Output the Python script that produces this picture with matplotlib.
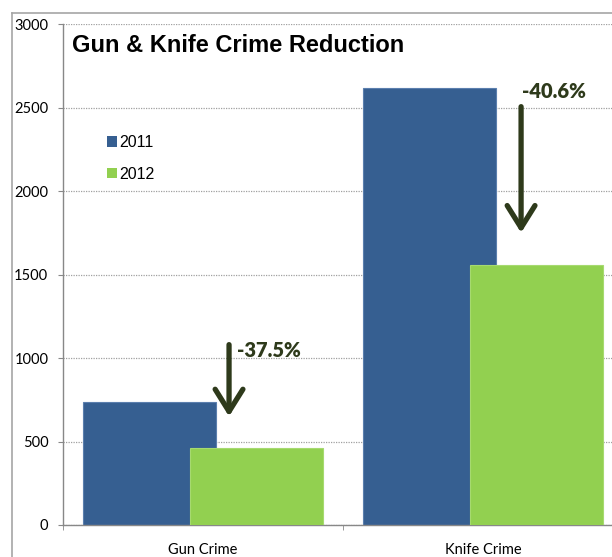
import matplotlib
matplotlib.use("Agg")
import matplotlib.pyplot as plt
from matplotlib.patches import Patch
from matplotlib.lines import Line2D
import numpy as np

categories = ["Gun Crime", "Knife Crime"]
series_names = ["2011", "2012"]
values_2011 = [736, 2617]
values_2012 = [460, 1555]
pct_labels = ["-37.5%", "-40.6%"]
yticks = [0, 500, 1000, 1500, 2000, 2500, 3000]

# annotation placement (arrow x, arrow start y, arrow tip y, label x, label y)
arrow_x = [0.093, 1.136]
arrow_start = [1080, 2505]
arrow_end = [650, 1750]
label_x = [0.121, 1.139]
label_y = [1042, 2593]

blue = "#365F91"
green = "#92D050"
dark = "#2E3A1B"

fig = plt.figure(figsize=(6.12, 5.57), dpi=100)
W, H = 612, 557
ax = fig.add_axes([63 / W, 1 - 525 / H, 560 / W, 501 / H])

x = np.arange(len(categories))
bw = 0.475
off = 0.19
ax.bar(x - off, values_2011, bw, color=blue, edgecolor="#5B7FAE", linewidth=0.8, zorder=2)
ax.bar(x + off, values_2012, bw, color=green, edgecolor="#A6DA70", linewidth=0.8, zorder=3)

ax.set_xlim(-0.5, 1.5)
ax.set_ylim(0, 3000)
ax.set_yticks(yticks)
ax.set_yticklabels([str(v) for v in yticks], fontsize=10.5, family="Lato")
ax.yaxis.grid(True, linestyle=(0, (1, 1)), color="#A0A0A0", linewidth=0.9, zorder=0)
ax.set_axisbelow(True)

ax.set_xticks(x)
ax.set_xticklabels(categories, fontsize=10.5, family="Lato")
ax.set_xticks([-0.5, 0.5, 1.5], minor=True)
ax.tick_params(axis="x", which="major", length=0, pad=13)
ax.tick_params(axis="x", which="minor", length=3.6, color="#888888", direction="out")
ax.tick_params(axis="y", length=3.6, color="#888888", direction="out", pad=7)

for s in ["top", "right"]:
    ax.spines[s].set_visible(False)
for s in ["left", "bottom"]:
    ax.spines[s].set_color("#888888")
    ax.spines[s].set_linewidth(1.0)

# title
ax.text((72 - 63) / 560, (525 - 45) / 501, "Gun & Knife Crime Reduction",
        transform=ax.transAxes, fontsize=17, fontweight="bold",
        family="Liberation Sans", va="center", ha="left", color="black")

# arrows and labels
for i in range(len(categories)):
    ax.annotate("", xy=(arrow_x[i], arrow_end[i]), xytext=(arrow_x[i], arrow_start[i]),
                arrowprops=dict(arrowstyle="->,head_length=0.8,head_width=0.5",
                                mutation_scale=20, color=dark, lw=3.8,
                                shrinkA=0, shrinkB=0),
                zorder=5)
    ax.text(label_x[i], label_y[i], pct_labels[i], fontsize=14.5, fontweight="heavy",
            family="Lato", color=dark, va="center", ha="left", zorder=5)

# legend
handles = [Patch(facecolor=blue, edgecolor="none"), Patch(facecolor=green, edgecolor="none")]
leg = ax.legend(handles, series_names, loc="upper left",
                bbox_to_anchor=((107 - 63) / 560, (525 - 135) / 501),
                frameon=False, prop={"family": "Liberation Sans", "size": 11.5},
                handlelength=0.65, handleheight=0.65, handletextpad=0.1,
                labelspacing=1.05, borderpad=0, borderaxespad=0)

# outer frame lines
fig.add_artist(Line2D([12 / W, 12 / W], [0, 1 - 13 / H], color="#A6A6A6", lw=1.2,
                      transform=fig.transFigure))
fig.add_artist(Line2D([12 / W, 1], [1 - 13 / H, 1 - 13 / H], color="#A6A6A6", lw=1.2,
                      transform=fig.transFigure))

fig.savefig("out.png", dpi=100)
